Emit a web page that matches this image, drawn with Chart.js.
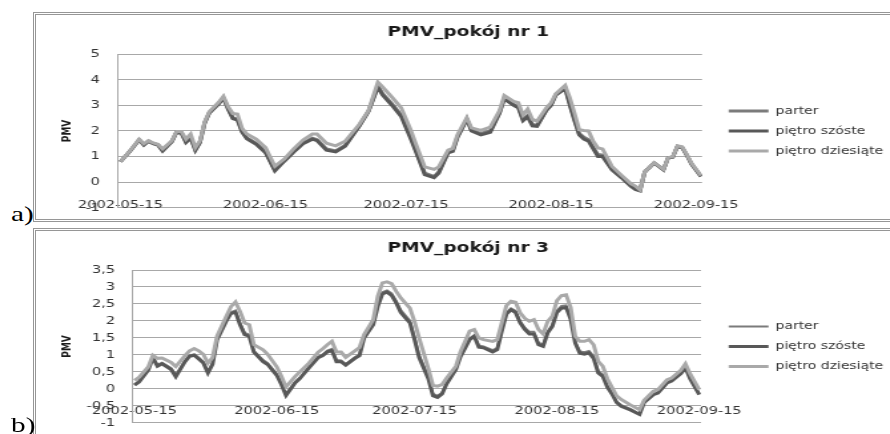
<!DOCTYPE html>
<html lang="pl">
<head>
<meta charset="utf-8">
<title>PMV – pokój nr 1 i nr 3</title>
<script src="https://cdn.jsdelivr.net/npm/chart.js@4.4.1/dist/chart.umd.min.js"></script>
<style>
  html, body { margin: 0; padding: 0; background: #fff; }
  body { width: 890px; height: 434px; overflow: hidden; position: relative; }
  .ramka { position: absolute; left: 33px; width: 900px; border: 3px double #969696; box-sizing: border-box; }
  #ramkaA { top: 12px; height: 210px; }
  #ramkaB { top: 228px; height: 230px; }
  /* wykres rysowany węziej i rozciągany w poziomie, jak w dokumencie */
  .wykres { position: absolute; left: 36px; width: 647px; transform: scaleX(1.33); transform-origin: 0 0; }
  #wykresA { top: 15px; height: 213px; }
  #wykresB { top: 231px; height: 212px; }
  .litera { position: absolute; left: 11px; font: 22px 'Liberation Serif', 'Times New Roman', serif; line-height: 1; transform: scaleX(1.33); transform-origin: 0 0; }
</style>
</head>
<body>
<div class="ramka" id="ramkaA"></div>
<div class="ramka" id="ramkaB"></div>
<div class="wykres" id="wykresA"><canvas id="chartA"></canvas></div>
<div class="wykres" id="wykresB"><canvas id="chartB"></canvas></div>
<div class="litera" style="top:203px">a)</div>
<div class="litera" style="top:414px">b)</div>
<script>
// dni liczone od 2002-05-15
const dniEtykiet = [0, 31, 61, 92, 123];
const etykietyX = ['2002-05-15', '2002-06-15', '2002-07-15', '2002-08-15', '2002-09-15'];
const serie = ['parter', 'piętro szóste', 'piętro dziesiąte'];

// pokój nr 1
const dniA = [0, 2, 4, 5, 6, 7, 8, 9, 11, 12,
  13, 14, 15, 16, 17, 18, 19, 21, 22, 23,
  24, 25, 26, 27, 29, 31, 33, 35, 37, 39,
  41, 42, 44, 46, 48, 51, 53, 55, 56, 58,
  60, 62, 63, 65, 67, 68, 70, 71, 72, 74,
  75, 77, 79, 81, 82, 84, 85, 86, 87, 88,
  89, 91, 92, 93, 95, 96, 97, 98, 99, 100,
  101, 102, 103, 105, 107, 109, 110, 111, 112, 114,
  116, 117, 118, 119, 120, 121, 122, 124];
const parterA = [0.80, 1.21, 1.66, 1.47, 1.60, 1.51, 1.46, 1.25, 1.60, 1.96,
  1.94, 1.58, 1.75, 1.27, 1.57, 2.32, 2.72, 3.07, 3.30, 2.88,
  2.52, 2.46, 1.98, 1.73, 1.52, 1.18, 0.48, 0.84, 1.20, 1.53,
  1.72, 1.66, 1.30, 1.22, 1.44, 2.20, 2.78, 3.75, 3.46, 3.06,
  2.62, 1.78, 1.30, 0.36, 0.22, 0.40, 1.18, 1.24, 1.78, 2.47,
  2.03, 1.90, 2.00, 2.73, 3.28, 3.03, 2.95, 2.46, 2.60, 2.25,
  2.22, 2.82, 3.02, 3.42, 3.70, 3.06, 2.46, 1.90, 1.75, 1.66,
  1.36, 1.08, 1.06, 0.52, 0.20, -0.12, -0.25, -0.32, 0.40, 0.75,
  0.49, 0.95, 0.99, 1.41, 1.36, 1.06, 0.72, 0.24];
const szosteA = [0.80, 1.20, 1.65, 1.45, 1.60, 1.50, 1.45, 1.22, 1.58, 1.95,
  1.92, 1.55, 1.72, 1.24, 1.55, 2.30, 2.70, 3.05, 3.28, 2.85,
  2.48, 2.42, 1.95, 1.70, 1.48, 1.15, 0.44, 0.82, 1.18, 1.50,
  1.68, 1.62, 1.25, 1.18, 1.40, 2.18, 2.76, 3.70, 3.40, 3.00,
  2.55, 1.70, 1.25, 0.30, 0.18, 0.35, 1.15, 1.20, 1.75, 2.45,
  2.00, 1.85, 1.95, 2.70, 3.25, 3.00, 2.90, 2.40, 2.55, 2.20,
  2.18, 2.80, 3.00, 3.40, 3.65, 3.00, 2.40, 1.85, 1.68, 1.60,
  1.30, 1.00, 1.00, 0.48, 0.18, -0.15, -0.28, -0.34, 0.40, 0.75,
  0.48, 0.95, 0.98, 1.40, 1.35, 1.05, 0.70, 0.22];
const dziesiateA = [0.80, 1.22, 1.68, 1.50, 1.62, 1.53, 1.48, 1.30, 1.62, 1.98,
  1.98, 1.68, 1.88, 1.35, 1.62, 2.35, 2.75, 3.12, 3.35, 2.95,
  2.68, 2.66, 2.10, 1.88, 1.68, 1.35, 0.62, 0.90, 1.30, 1.65,
  1.88, 1.88, 1.52, 1.42, 1.60, 2.25, 2.80, 3.90, 3.72, 3.32,
  2.90, 2.05, 1.55, 0.60, 0.50, 0.60, 1.25, 1.32, 1.85, 2.52,
  2.12, 2.02, 2.15, 2.80, 3.38, 3.15, 3.10, 2.62, 2.85, 2.45,
  2.38, 2.90, 3.10, 3.45, 3.78, 3.30, 2.70, 2.05, 2.02, 2.00,
  1.60, 1.34, 1.30, 0.62, 0.28, -0.05, -0.15, -0.30, 0.40, 0.76,
  0.50, 0.96, 1.00, 1.42, 1.38, 1.08, 0.74, 0.26];

// pokój nr 3
const dniB = [0, 1, 3, 4, 5, 6, 8, 9, 11, 12,
  13, 14, 15, 16, 17, 18, 20, 21, 22, 23,
  24, 25, 26, 28, 29, 31, 32, 33, 35, 36,
  38, 40, 41, 42, 43, 44, 45, 46, 48, 49,
  50, 52, 53, 54, 55, 56, 57, 58, 60, 61,
  62, 64, 65, 66, 67, 68, 70, 71, 73, 74,
  75, 76, 78, 79, 80, 81, 82, 83, 84, 85,
  86, 87, 88, 89, 90, 91, 92, 93, 94, 95,
  96, 97, 98, 99, 100, 101, 102, 103, 104, 105,
  106, 108, 110, 111, 113, 114, 116, 117, 119, 120,
  121, 123];
const parterB = [0.14, 0.23, 0.58, 0.93, 0.71, 0.77, 0.61, 0.40, 0.83, 0.99,
  1.02, 0.92, 0.80, 0.52, 0.75, 1.47, 2.03, 2.26, 2.31, 1.94,
  1.65, 1.60, 1.12, 0.85, 0.76, 0.44, 0.17, -0.14, 0.21, 0.33,
  0.64, 0.94, 1.01, 1.13, 1.18, 0.85, 0.84, 0.73, 0.93, 1.01,
  1.52, 1.91, 2.48, 2.85, 2.90, 2.81, 2.59, 2.32, 2.01, 1.52,
  1.00, 0.35, -0.15, -0.20, -0.11, 0.18, 0.59, 0.98, 1.49, 1.58,
  1.28, 1.25, 1.14, 1.20, 1.73, 2.24, 2.37, 2.30, 1.99, 1.80,
  1.68, 1.68, 1.36, 1.30, 1.69, 1.88, 2.30, 2.44, 2.46, 2.11,
  1.38, 1.10, 1.08, 1.12, 0.96, 0.52, 0.42, 0.09, -0.12, -0.37,
  -0.48, -0.59, -0.73, -0.39, -0.16, -0.11, 0.19, 0.24, 0.46, 0.64,
  0.32, -0.15];
const szosteB = [0.11, 0.20, 0.55, 0.91, 0.67, 0.74, 0.57, 0.36, 0.80, 0.96,
  0.99, 0.88, 0.76, 0.47, 0.72, 1.45, 2.00, 2.22, 2.26, 1.89,
  1.60, 1.55, 1.08, 0.80, 0.72, 0.40, 0.13, -0.19, 0.18, 0.30,
  0.62, 0.92, 0.98, 1.09, 1.13, 0.80, 0.80, 0.70, 0.90, 0.98,
  1.50, 1.89, 2.43, 2.80, 2.85, 2.75, 2.53, 2.25, 1.94, 1.45,
  0.92, 0.30, -0.20, -0.25, -0.15, 0.15, 0.57, 0.95, 1.45, 1.55,
  1.23, 1.21, 1.09, 1.16, 1.70, 2.20, 2.33, 2.25, 1.94, 1.75,
  1.62, 1.62, 1.30, 1.25, 1.65, 1.84, 2.25, 2.38, 2.40, 2.05,
  1.35, 1.05, 1.02, 1.06, 0.90, 0.47, 0.37, 0.05, -0.15, -0.40,
  -0.51, -0.62, -0.75, -0.40, -0.17, -0.12, 0.18, 0.23, 0.45, 0.62,
  0.30, -0.17];
const dziesiateB = [0.25, 0.34, 0.65, 0.99, 0.90, 0.91, 0.78, 0.66, 0.98, 1.12,
  1.19, 1.12, 1.02, 0.76, 0.92, 1.56, 2.14, 2.42, 2.56, 2.28,
  1.94, 1.89, 1.30, 1.15, 1.02, 0.65, 0.37, 0.06, 0.37, 0.50,
  0.76, 1.08, 1.18, 1.30, 1.40, 1.09, 1.09, 0.93, 1.12, 1.22,
  1.60, 2.04, 2.73, 3.12, 3.15, 3.10, 2.87, 2.68, 2.38, 1.98,
  1.50, 0.60, 0.10, 0.08, 0.13, 0.32, 0.67, 1.10, 1.70, 1.75,
  1.50, 1.45, 1.40, 1.45, 1.95, 2.45, 2.58, 2.55, 2.24, 2.08,
  1.99, 2.04, 1.75, 1.62, 1.99, 2.14, 2.60, 2.75, 2.77, 2.40,
  1.55, 1.40, 1.40, 1.45, 1.30, 0.81, 0.67, 0.30, 0.05, -0.20,
  -0.31, -0.47, -0.61, -0.33, -0.07, -0.02, 0.27, 0.32, 0.55, 0.74,
  0.45, -0.02];

const kolory = ['#7b7b7b', '#585858', '#a9a9a9'];
const kolorSiatki = '#a8a8a8';

Chart.defaults.font.family = "'DejaVu Sans', sans-serif";

function rysujWykres(canvasId, tytul, dni, wartosci, grubosci, os) {
    const ctx = document.getElementById(canvasId);
    return new Chart(ctx, {
        type: 'line',
        data: {
            datasets: serie.map((nazwa, i) => ({
                label: nazwa,
                data: dni.map((d, j) => ({ x: d, y: wartosci[i][j] })),
                borderColor: kolory[i],
                backgroundColor: kolory[i],
                borderWidth: grubosci[i],
                pointRadius: 0,
                tension: 0,
                order: serie.length - i,
                xAxisID: 'x',
                yAxisID: 'y'
            }))
        },
        options: {
            animation: false,
            responsive: true,
            maintainAspectRatio: false,
            events: [],
            // dół obszaru wykresu wyznacza margines etykiet osi Y
            layout: { padding: { left: 3, right: 0, top: 0, bottom: 0 } },
            plugins: {
                title: {
                    display: true,
                    text: tytul,
                    color: '#1a1a1a',
                    font: { size: 14, weight: 'bold' },
                    padding: { top: 9, bottom: 13.2 }
                },
                legend: {
                    position: 'right',
                    fullSize: false,
                    maxWidth: 400,
                    labels: {
                        usePointStyle: true,
                        pointStyle: 'line',
                        pointStyleWidth: 30,
                        color: '#333',
                        font: { size: 10.5 },
                        padding: 9.5,
                        sort: (a, b) => a.datasetIndex - b.datasetIndex
                    }
                },
                tooltip: { enabled: false }
            },
            scales: {
                x: {
                    type: 'linear',
                    position: { y: 0 },
                    min: os.xMin,
                    max: os.xMax,
                    grid: { display: false },
                    border: { display: false },
                    ticks: {
                        autoSkip: false,
                        maxRotation: 0,
                        padding: 8,
                        color: '#333',
                        font: { size: 11 },
                        callback: v => {
                            const k = dniEtykiet.indexOf(v);
                            return k >= 0 ? etykietyX[k] : '';
                        }
                    },
                    afterBuildTicks: s => { s.ticks = dniEtykiet.map(v => ({ value: v })); },
                    afterFit: s => { s.height = 0; }
                },
                y: {
                    min: os.yMin,
                    max: os.yMax,
                    ticks: {
                        stepSize: os.krok,
                        padding: 13.5,
                        color: '#333',
                        font: { size: 11 },
                        callback: v => String(v).replace('.', ',')
                    },
                    grid: { color: kolorSiatki, drawTicks: false },
                    border: { color: kolorSiatki },
                    title: {
                        display: true,
                        text: 'PMV',
                        color: '#1a1a1a',
                        font: { size: 9, weight: 'bold' },
                        padding: { top: 15, bottom: 0 }
                    },
                    afterFit: s => { s.width = os.szerokoscY; }
                },
                // pusty pas między wykresem a legendą
                odstep: {
                    position: 'right',
                    grid: { display: false },
                    border: { display: false },
                    ticks: { display: false },
                    afterFit: s => { s.width = os.odstep; }
                }
            }
        }
    });
}

rysujWykres('chartA', 'PMV_pokój nr 1', dniA, [parterA, szosteA, dziesiateA], [3, 3, 3],
    { xMin: -0.53, xMax: 124.25, yMin: -1, yMax: 5, krok: 1, szerokoscY: 58.6, odstep: 10.5 });
rysujWykres('chartB', 'PMV_pokój nr 3', dniB, [parterB, szosteB, dziesiateB], [2, 3, 3],
    { xMin: -0.33, xMax: 123.4, yMin: -1, yMax: 3.5, krok: 0.5, szerokoscY: 69.9, odstep: 11.25 });
</script>
</body>
</html>
